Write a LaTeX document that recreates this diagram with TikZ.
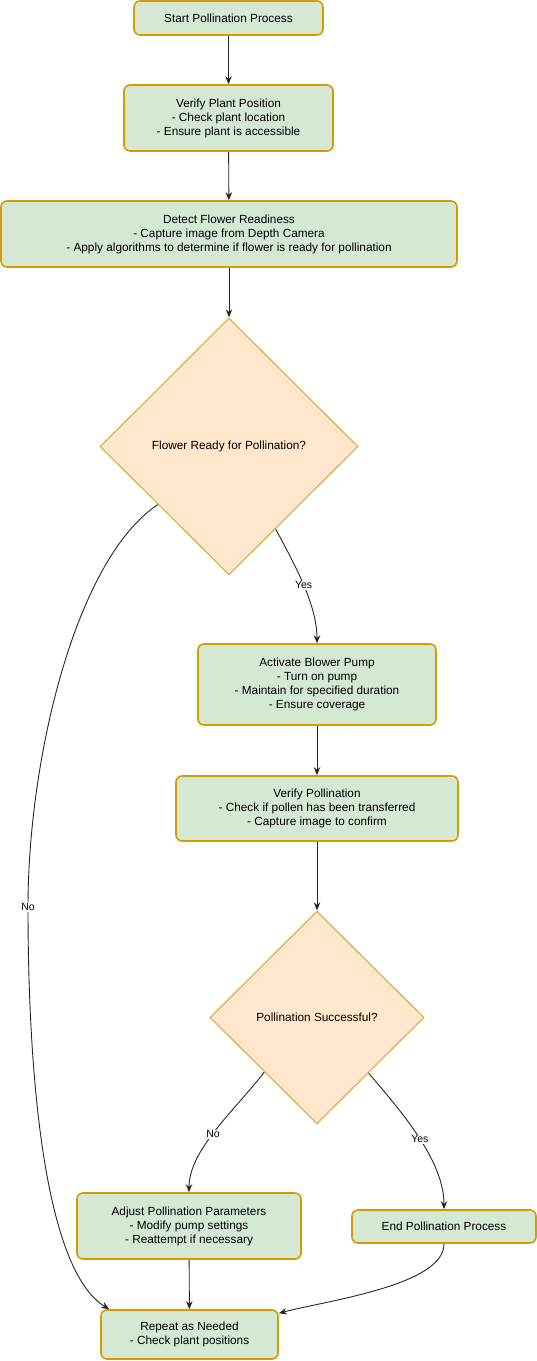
\documentclass[tikz,border=0pt]{standalone}
\usepackage{fontspec}
\setmainfont{Liberation Sans}
\usetikzlibrary{shapes.geometric,arrows.meta,calc}
\definecolor{boxfill}{HTML}{D5E8D4}
\definecolor{boxline}{HTML}{D79B00}
\definecolor{decfill}{HTML}{FFE6CC}
\definecolor{decline}{HTML}{D6B656}
\begin{document}
\begin{tikzpicture}[x=1pt,y=-1pt,
  stepbox/.style={draw=boxline,fill=boxfill,line width=1.6pt,rounded corners=6pt,
    align=center,inner sep=2pt,font=\fontsize{11.8}{14}\selectfont},
  decbox/.style={diamond,draw=decline,fill=decfill,line width=1.3pt,aspect=1,
    inner sep=0pt,align=center,font=\fontsize{11.8}{14}\selectfont},
  conn/.style={draw=black!85,line width=0.9pt,-{Stealth[length=8pt,width=6.5pt]}},
  lbl/.style={fill=white,inner sep=1pt,font=\fontsize{10.5}{12}\selectfont}]
\useasboundingbox (0,0) rectangle (537,1361);

\node[stepbox,minimum width=189pt,minimum height=34pt] (start) at (228.5,18) {Start Pollination Process};
\node[stepbox,minimum width=209pt,minimum height=66pt] (vpp) at (228.5,118) {Verify Plant Position\\- Check plant location\\- Ensure plant is accessible};
\node[stepbox,minimum width=456pt,minimum height=66pt] (dfr) at (229,234) {Detect Flower Readiness\\- Capture image from Depth Camera\\- Apply algorithms to determine if flower is ready for pollination};
\node[decbox,minimum width=258pt,minimum height=257pt] (d1) at (229,446.5) {Flower Ready for Pollination?};
\node[stepbox,minimum width=238pt,minimum height=81pt] (abp) at (317,684.5) {Activate Blower Pump\\- Turn on pump\\- Maintain for specified duration\\- Ensure coverage};
\node[stepbox,minimum width=282pt,minimum height=65pt] (vp) at (317,808.5) {Verify Pollination\\- Check if pollen has been transferred\\- Capture image to confirm};
\node[decbox,minimum width=214pt,minimum height=213pt] (d2) at (317,1017.5) {Pollination Successful?};
\node[stepbox,minimum width=224pt,minimum height=66pt] (adj) at (189,1226) {Adjust Pollination Parameters\\- Modify pump settings\\- Reattempt if necessary};
\node[stepbox,minimum width=184pt,minimum height=33pt] (endp) at (444,1226.5) {End Pollination Process};
\node[stepbox,minimum width=177pt,minimum height=49pt] (rep) at (189.5,1334.5) {Repeat as Needed\\- Check plant positions};

\coordinate (d1y) at ($(d1.east)!0.64!(d1.south)$);
\coordinate (d1n) at ($(d1.west)!0.45!(d1.south)$);
\coordinate (d2n) at ($(d2.west)!0.51!(d2.south)$);
\coordinate (d2y) at ($(d2.east)!0.52!(d2.south)$);
\coordinate (repnw) at ($(rep.north west)+(9,0)$);
\coordinate (repe) at ($(rep.north east)+(0,4)$);

\draw[conn] (start) -- (vpp);
\draw[conn] (vpp) -- (dfr);
\draw[conn] (dfr) -- (d1);
\draw[conn] (d1y) .. controls (295,565) and (317,605) .. node[lbl,pos=0.5]{Yes} (abp.north);
\draw[conn] (d1n) .. controls (75,560) and (28,760) .. (28,907) node[lbl]{No}
  .. controls (28,1080) and (45,1270) .. (repnw);
\draw[conn] (abp) -- (vp);
\draw[conn] (vp) -- (d2);
\draw[conn] (d2n) .. controls (235,1110) and (189,1150) .. node[lbl,pos=0.53]{No} (adj.north);
\draw[conn] (d2y) .. controls (400,1110) and (444,1160) .. node[lbl,pos=0.52]{Yes} (endp.north);
\draw[conn] (adj) -- (rep);
\draw[conn] (endp.south) .. controls (444,1285) and (330,1300) .. (repe);
\end{tikzpicture}
\end{document}
